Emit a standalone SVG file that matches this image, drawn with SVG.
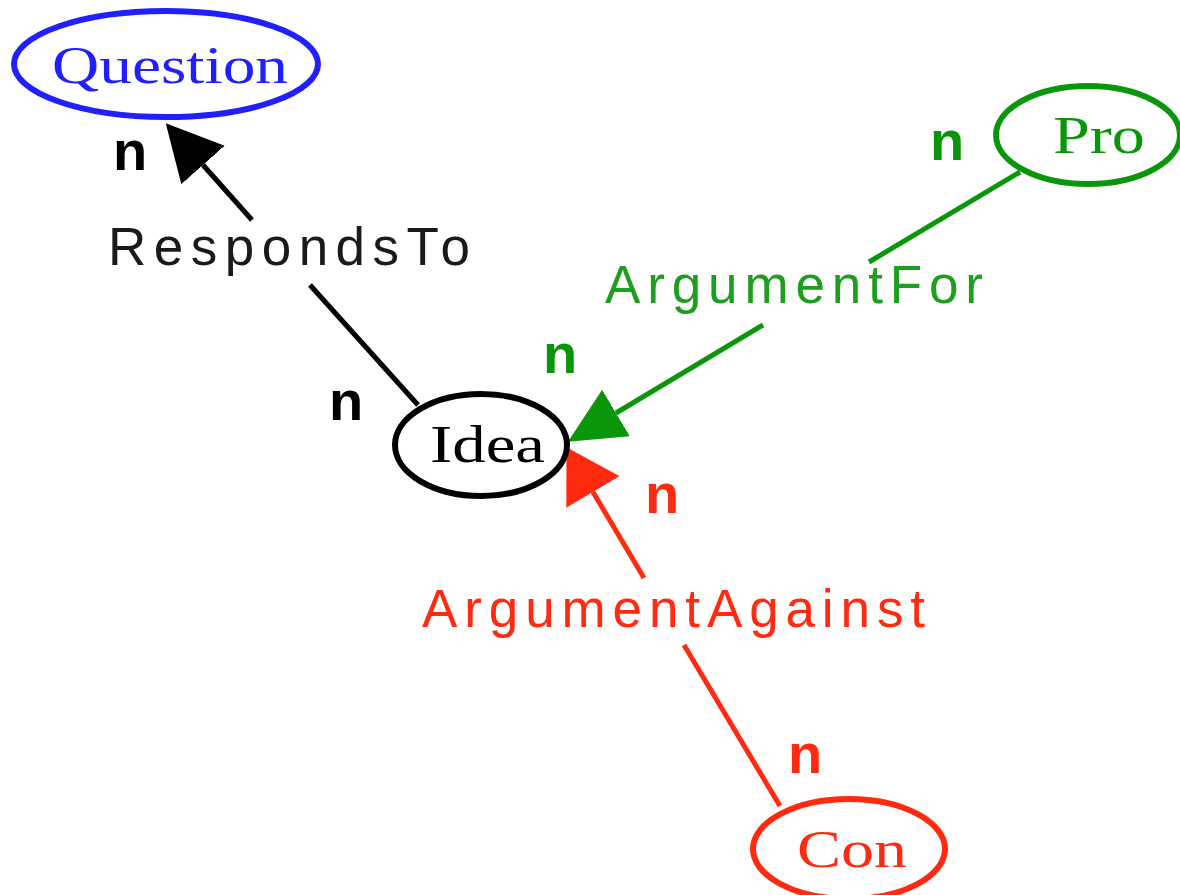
<svg xmlns="http://www.w3.org/2000/svg" width="1180" height="895" viewBox="0 0 1180 895">
<style>
.node ellipse{fill:#fff;stroke-width:6}
.nlabel{font-family:"Liberation Serif","Times New Roman",serif;font-size:53px}
.elabel{font-family:"Liberation Sans",Arial,sans-serif;font-size:53px}
.card{font-family:"Liberation Sans",Arial,sans-serif;font-size:56px;font-weight:bold;text-anchor:middle}
.edge{fill:none;stroke-width:5}
</style>
<defs>
<marker id="ah-black" markerUnits="userSpaceOnUse" markerWidth="56" markerHeight="60" refX="0" refY="30" orient="auto"><path d="M0,1 L56,30 L0,59 z" fill="#000"/></marker>
<marker id="ah-green" markerUnits="userSpaceOnUse" markerWidth="56" markerHeight="60" refX="0" refY="30" orient="auto"><path d="M0,3 L56,30 L0,57 z" fill="#0a960a"/></marker>
<marker id="ah-red" markerUnits="userSpaceOnUse" markerWidth="56" markerHeight="64" refX="0" refY="32" orient="auto"><path d="M0,1 L52,32 L0,63 z" fill="#ff2a10"/></marker>
</defs>
<rect width="1180" height="895" fill="#fff"/>
<g id="connectors">
<g id="edge-respondsto">
<path class="edge" stroke="#000" d="M418,405 L310,285 M252,220 L203,165" marker-end="url(#ah-black)"/>
<text class="elabel" x="108" y="265" textLength="362" lengthAdjust="spacing" fill="#1a1a1a">RespondsTo</text>
<text class="card" x="130" y="170" fill="#000">n</text>
<text class="card" x="346" y="420" fill="#000">n</text>
</g>
<g id="edge-argumentfor">
<path class="edge" stroke="#0a960a" d="M1020,172 L869,262 M763,325 L616,413" marker-end="url(#ah-green)"/>
<text class="elabel" x="605" y="303" textLength="378" lengthAdjust="spacing" fill="#1e9e1e">ArgumentFor</text>
<text class="card" x="560" y="373" fill="#0a960a">n</text>
<text class="card" x="947" y="160" fill="#0a960a">n</text>
</g>
<g id="edge-argumentagainst">
<path class="edge" stroke="#ff2a10" d="M780,806 L684,645 M644,578 L593,492" marker-end="url(#ah-red)"/>
<text class="elabel" x="422" y="627" textLength="503" lengthAdjust="spacing" fill="#ff2a10">ArgumentAgainst</text>
<text class="card" x="662" y="513" fill="#ff2a10">n</text>
<text class="card" x="805" y="773" fill="#ff2a10">n</text>
</g>
</g>
<g id="node-question" class="node">
<ellipse cx="166" cy="64" rx="152" ry="53" stroke="#2020ff"/>
<text class="nlabel" x="52" y="83" textLength="236" lengthAdjust="spacingAndGlyphs" fill="#2020ff">Question</text>
</g>
<g id="node-idea" class="node">
<ellipse cx="481" cy="445" rx="86" ry="51" stroke="#000"/>
<text class="nlabel" x="430" y="462" textLength="115" lengthAdjust="spacingAndGlyphs" fill="#000">Idea</text>
</g>
<g id="node-pro" class="node">
<ellipse cx="1088" cy="135" rx="92" ry="49" stroke="#0a960a"/>
<text class="nlabel" x="1053" y="153" textLength="92" lengthAdjust="spacingAndGlyphs" fill="#0a960a">Pro</text>
</g>
<g id="node-con" class="node">
<ellipse cx="849" cy="849" rx="96" ry="50" stroke="#ff2a10"/>
<text class="nlabel" x="797" y="867" textLength="110" lengthAdjust="spacingAndGlyphs" fill="#ff2a10">Con</text>
</g>
</svg>
